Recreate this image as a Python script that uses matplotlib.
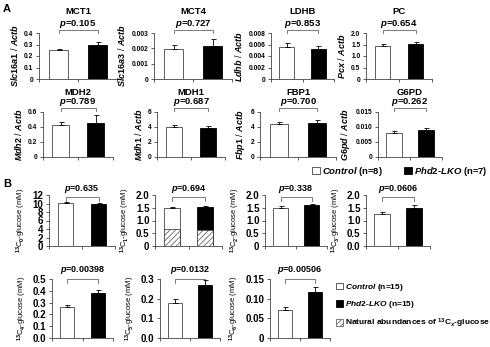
import matplotlib.pyplot as plt
from matplotlib.patches import Patch

plt.rcParams["font.family"] = ["Liberation Sans", "DejaVu Sans"]
plt.rcParams["font.weight"] = "bold"
plt.rcParams["mathtext.fontset"] = "custom"
plt.rcParams["mathtext.rm"] = "Liberation Sans:bold"
plt.rcParams["mathtext.it"] = "Liberation Sans:italic:bold"
plt.rcParams["mathtext.bf"] = "Liberation Sans:bold"
plt.rcParams["hatch.linewidth"] = 0.6

# panel A: mRNA expression
A_TITLES = ["MCT1", "MCT4", "LDHB", "PC", "MDH2", "MDH1", "FBP1", "G6PD"]
A_GENES = ["Slc16a1", "Slc16a3", "Ldhb", "Pcx", "Mdh2", "Mdh1", "Fbp1", "G6pd"]
A_CTRL = [0.255, 0.00197, 0.0055, 1.45, 0.42, 4.0, 4.35, 0.0080]
A_CTRL_ERR = [0.005, 0.00025, 0.0007, 0.08, 0.05, 0.25, 0.3, 0.0006]
A_LKO = [0.298, 0.00218, 0.0053, 1.53, 0.45, 3.85, 4.55, 0.0090]
A_LKO_ERR = [0.025, 0.0004, 0.0005, 0.10, 0.11, 0.25, 0.4, 0.0006]
A_P = ["0.105", "0.727", "0.853", "0.654", "0.789", "0.687", "0.700", "0.262"]
A_TICKS = [
    ["0", "0.1", "0.2", "0.3", "0.4"],
    ["0", "0.001", "0.002", "0.003"],
    ["0", "0.002", "0.004", "0.006", "0.008"],
    ["0", "0.5", "1.0", "1.5", "2.0"],
    ["0", "0.2", "0.4", "0.6"],
    ["0", "2", "4", "6"],
    ["0", "2", "4", "6"],
    ["0", "0.005", "0.010", "0.015"],
]

# panel B: 13C isotopomers of glucose
B_LABELS = ["0", "1", "2", "3", "4", "5", "6"]
B_CTRL = [10.1, 1.48, 1.50, 1.25, 0.26, 0.18, 0.072]
B_CTRL_ERR = [0.3, 0.03, 0.05, 0.10, 0.02, 0.02, 0.008]
B_LKO = [9.8, 1.52, 1.60, 1.50, 0.38, 0.27, 0.117]
B_LKO_ERR = [0.4, 0.03, 0.05, 0.10, 0.03, 0.025, 0.012]
B_NAT_CTRL = [0, 0.66, 0, 0, 0, 0, 0]
B_NAT_LKO = [0, 0.62, 0, 0, 0, 0, 0]
B_P = ["0.635", "0.694", "0.338", "0.0606", "0.00398", "0.0132", "0.00506"]
B_TICKS = [
    ["0", "2", "4", "6", "8", "10", "12"],
    ["0", "0.5", "1.0", "1.5", "2.0"],
    ["0", "0.5", "1.0", "1.5", "2.0"],
    ["0.0", "0.5", "1.0", "1.5", "2.0"],
    ["0.0", "0.1", "0.2", "0.3", "0.4", "0.5"],
    ["0.0", "0.1", "0.2", "0.3"],
    ["0", "0.05", "0.10", "0.15"],
]

W, H = 490, 347
EDGE = "#444444"


def px_axes(fig, x0, x1, ytop, ybot):
    return fig.add_axes([x0 / W, 1 - ybot / H, (x1 - x0) / W, (ybot - ytop) / H])


def draw_bars(ax, ctrl, ctrl_err, lko, lko_err, ticks, fs_tick, nat=None):
    width = 0.47
    ax.bar(0, ctrl, width, color="white", edgecolor=EDGE, lw=0.6, zorder=2)
    ax.bar(1, lko, width, color="black", edgecolor="black", lw=0.6, zorder=2)
    if nat is not None and (nat[0] > 0 or nat[1] > 0):
        ax.bar([0, 1], nat, width, color="white", edgecolor="#666666",
               hatch="//////", lw=0, zorder=3)
        ax.bar([0, 1], nat, width, fill=False, edgecolor=EDGE, lw=0.6, zorder=4)
    ax.errorbar([0, 1], [ctrl, lko], yerr=[[0, 0], [ctrl_err, lko_err]],
                fmt="none", ecolor="black", elinewidth=0.6, capsize=1.8,
                capthick=0.6, zorder=5)
    vals = [float(t) for t in ticks]
    ax.set_ylim(0, vals[-1])
    ax.set_yticks(vals)
    ax.set_yticklabels(ticks, fontsize=fs_tick)
    ax.set_xlim(-0.5, 1.5)
    ax.set_xticks([-0.5, 0.5, 1.5])
    ax.set_xticklabels([])
    ax.tick_params(axis="x", length=2, width=0.6, color=EDGE, direction="out")
    ax.tick_params(axis="y", length=2, width=0.6, color=EDGE, pad=2)
    for s in ["top", "right"]:
        ax.spines[s].set_visible(False)
    for s in ["left", "bottom"]:
        ax.spines[s].set_color(EDGE)
        ax.spines[s].set_linewidth(0.6)


def bracket(ax, y, drop, ptxt, ty, fs):
    tr = ax.get_xaxis_transform()
    ax.plot([0, 0, 1, 1], [y - drop, y, y, y - drop], transform=tr,
            color="#666666", lw=0.6, clip_on=False)
    ax.text(0.5, ty, f"$p$={ptxt}", transform=tr, ha="center", va="center",
            fontsize=fs)


fig = plt.figure(figsize=(W / 100, H / 100), dpi=100)

A_POS = [
    (39, 117, 33, 79), (154, 232, 33, 79), (271, 334, 33, 79), (366, 432, 33, 79),
    (43, 113, 112, 157), (157, 225, 112, 157), (260, 336, 112, 157), (378, 442, 112, 157),
]
for i in range(8):
    ax = px_axes(fig, *A_POS[i])
    draw_bars(ax, A_CTRL[i], A_CTRL_ERR[i], A_LKO[i], A_LKO_ERR[i], A_TICKS[i], 4.8)
    ax.set_ylabel(f"$\\mathit{{{A_GENES[i]}}}$ / $\\mathit{{Actb}}$", fontsize=6.5,
                  labelpad=3)
    if i < 4:
        bracket(ax, 1.07, 0.07, A_P[i], 1.20, 6.8)
        title_y = 1.46
    else:
        bracket(ax, 1.09, 0.07, A_P[i], 1.22, 6.8)
        title_y = 1.44
    ax.text(0.5, title_y, A_TITLES[i], transform=ax.transAxes, ha="center",
            va="center", fontsize=6.8, fontweight="bold")

fig.text(3 / W, 1 - 9 / H, "A", fontsize=8, fontweight="bold", va="center")
fig.text(3 / W, 1 - 184 / H, "B", fontsize=8, fontweight="bold", va="center")

leg_a = [Patch(facecolor="white", edgecolor=EDGE, lw=0.6),
         Patch(facecolor="black", edgecolor="black", lw=0.6)]
fig.legend(leg_a, ["$\\mathit{Control}$ (n=8)", "$\\mathit{Phd2}$-$\\mathit{LKO}$ (n=7)"],
           loc="center left", bbox_to_anchor=(312 / W, 1 - 171 / H), ncol=2,
           frameon=False, fontsize=6.8, handlelength=0.8, handleheight=0.8,
           handletextpad=0.3, columnspacing=2.2, borderaxespad=0, borderpad=0)

B_POS = [
    (49, 115, 195, 246), (155, 222, 195, 246), (265, 327, 195, 246), (366, 430, 195, 246),
    (52, 113, 279, 338), (160, 220, 279, 338), (270, 330, 279, 338),
]
for i in range(7):
    ax = px_axes(fig, *B_POS[i])
    draw_bars(ax, B_CTRL[i], B_CTRL_ERR[i], B_LKO[i], B_LKO_ERR[i], B_TICKS[i], 7,
              nat=[B_NAT_CTRL[i], B_NAT_LKO[i]])
    ax.set_ylabel(f"$^{{13}}$C$_{{{B_LABELS[i]}}}$-glucose (mM)", fontsize=5.5,
                  labelpad=3)
    if i < 4:
        bracket(ax, 0.96, 0.07, B_P[i], 1.11, 6.5)
    else:
        bracket(ax, 1.0, 0.06, B_P[i], 1.16, 6.5)

leg_b = [Patch(facecolor="white", edgecolor=EDGE, lw=0.6),
         Patch(facecolor="black", edgecolor="black", lw=0.6),
         Patch(facecolor="white", edgecolor="#666666", hatch="//////", lw=0.6)]
fig.legend(leg_b, ["$\\mathit{Control}$ (n=15)",
                   "$\\mathit{Phd2}$-$\\mathit{LKO}$ (n=15)",
                   "Natural abundances of $^{13}$C$_{x}$-glucose"],
           loc="upper left", bbox_to_anchor=(336 / W, 1 - 282 / H),
           frameon=False, fontsize=6.0, handlelength=0.8, handleheight=0.8,
           handletextpad=0.3, labelspacing=0.75, borderaxespad=0, borderpad=0)

fig.savefig("out.png", dpi=100)
